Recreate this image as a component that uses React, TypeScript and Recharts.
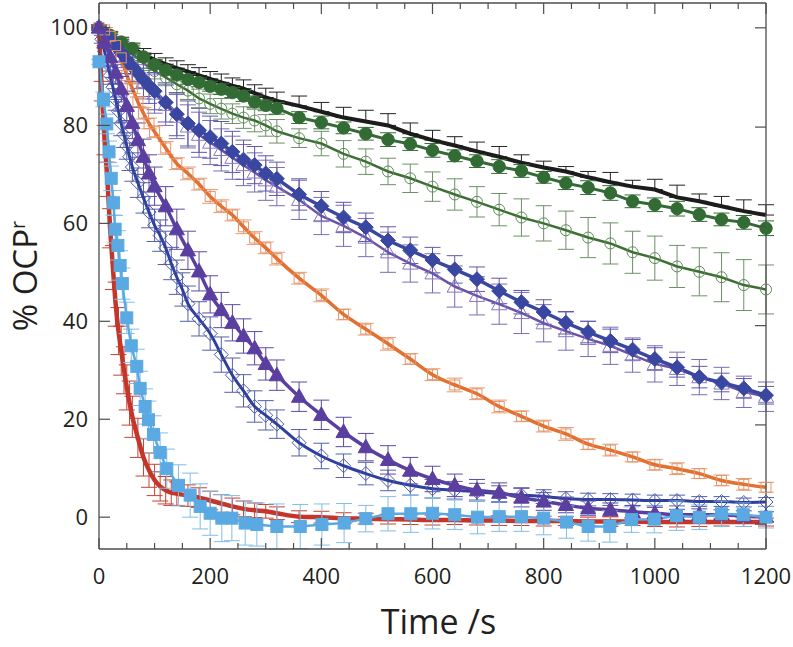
import React from "react";
import { ComposedChart, Line, XAxis, YAxis, ErrorBar } from "recharts";

// time points (s)
const tCoarse = [0, 20, 40, 60, 80, 100, 120, 140, 160, 180, 200, 220, 240, 260, 280, 300, 320, 360, 400, 440, 480, 520, 560, 600, 640, 680, 720, 760, 800, 840, 880, 920, 960, 1000, 1040, 1080, 1120, 1160, 1200];
const tMid = [0, 10, 20, 30, 40, 50, 60, 70, 80, 90, 100, 120, 140, 160, 180, 200, 220, 240, 260, 280, 300, 320, 360, 400, 440, 480, 520, 560, 600, 640, 680, 720, 760, 800, 840, 880, 920, 960, 1000, 1040, 1080, 1120, 1160, 1200];
const tFine = [0, 5, 10, 15, 20, 25, 30, 35, 40, 45, 50, 55, 60, 70, 80, 90, 100, 110, 120, 130, 140, 150, 160, 180, 200, 220, 240, 260, 280, 300, 320, 360, 400, 440, 480, 520, 560, 600, 640, 680, 720, 760, 800, 840, 880, 920, 960, 1000, 1040, 1080, 1120, 1160, 1200];
const tRed = [0, 5, 10, 15, 20, 25, 30, 35, 40, 45, 50, 55, 60, 70, 80, 90, 100, 110, 120, 130, 140, 160, 180, 200, 220, 240, 260, 280, 300, 320, 360, 400, 440, 480, 520, 560, 600, 640, 680, 720, 760, 800, 840, 880, 920, 960, 1000, 1040, 1080, 1120, 1160, 1200];
const tLight = [0, 8, 14, 18, 22, 26, 29, 34, 38, 42, 50, 58, 68, 74, 83, 89, 98, 110, 122, 143, 164, 182, 200, 221, 239, 263, 284, 320, 362, 401, 441, 480, 520, 561, 600, 640, 681, 720, 760, 800, 841, 880, 919, 958, 999, 1039, 1080, 1120, 1159, 1200];

// % OCPr and error half-heights
const blackV = [100, 98.6, 97.2, 95.8, 94.5, 93.4, 92.5, 91.7, 91.0, 90.2, 89.5, 88.8, 88.1, 87.5, 86.6, 85.7, 85.0, 84.0, 82.8, 81.6, 80.8, 80.0, 78.3, 77.0, 75.9, 74.7, 73.6, 72.4, 71.4, 70.6, 69.4, 68.4, 67.5, 66.9, 65.3, 64.5, 63.5, 62.5, 61.7];
const blackE = [0.4, 0.6, 0.8, 1.0, 1.2, 1.3, 1.3, 1.5, 1.4, 1.6, 1.5, 1.7, 1.6, 1.8, 1.7, 1.9, 1.8, 2.0, 1.9, 2.1, 2.3, 2.4, 2.2, 2.0, 1.8, 1.9, 2.1, 1.6, 1.3, 1.0, 1.2, 2.0, 1.3, 2.1, 2.5, 1.5, 2.0, 2.3, 2.1];

const greenV = [100, 98.4, 97.0, 95.7, 94.0, 92.4, 91.3, 90.3, 89.4, 88.8, 88.0, 87.4, 86.7, 86.0, 84.8, 84.1, 83.5, 81.6, 80.6, 79.5, 78.3, 77.1, 76.2, 74.9, 73.8, 72.7, 71.6, 70.7, 69.4, 68.2, 67.3, 66.2, 64.5, 63.8, 63.0, 61.8, 60.8, 60.2, 59.0];
const greenE = [0.3, 0.5, 0.6, 0.7, 0.8, 0.8, 0.9, 0.9, 1.0, 0.9, 1.0, 1.1, 1.0, 1.1, 1.2, 1.1, 1.2, 1.2, 1.3, 1.2, 1.3, 1.4, 1.3, 1.4, 1.2, 1.3, 1.4, 1.3, 1.2, 1.3, 1.4, 1.5, 1.3, 1.4, 1.5, 1.4, 1.3, 1.4, 1.5];

const openGreenV = [100, 98.0, 96.4, 94.6, 92.7, 91.1, 89.8, 88.4, 87.1, 85.5, 84.4, 83.4, 82.4, 81.6, 81.0, 80.0, 78.8, 77.4, 76.3, 74.2, 72.6, 70.6, 69.2, 67.5, 65.9, 64.4, 62.8, 61.2, 60.0, 58.6, 57.1, 55.9, 54.1, 52.9, 51.2, 50.1, 49.0, 47.4, 46.5];
const openGreenE = [0.5, 1.0, 1.2, 1.4, 1.5, 1.6, 1.7, 1.8, 1.8, 1.9, 2.0, 2.1, 2.0, 2.2, 2.3, 2.2, 2.4, 1.9, 2.5, 2.7, 2.6, 2.7, 2.9, 3.0, 3.2, 3.1, 3.3, 3.8, 3.6, 3.9, 4.1, 4.2, 4.3, 4.5, 4.3, 4.9, 5.0, 5.2, 5.0];

const openTriV = [100, 97.2, 94.3, 91.5, 88.9, 86.5, 84.2, 81.8, 79.8, 78.1, 76.5, 75.0, 73.4, 71.9, 70.4, 68.8, 67.5, 64.8, 61.5, 59.5, 57.1, 54.1, 51.8, 49.8, 47.1, 45.2, 43.5, 41.7, 39.6, 38.0, 36.4, 35.0, 33.1, 31.3, 30.3, 28.6, 27.3, 25.6, 24.6];
const openTriE = [0.5, 1.5, 2.5, 3.0, 3.5, 4.0, 4.2, 4.5, 4.4, 4.6, 4.5, 4.3, 4.4, 4.2, 4.0, 4.1, 3.9, 4.0, 3.8, 4.2, 3.9, 4.1, 3.8, 4.0, 4.2, 3.9, 4.1, 4.2, 3.8, 3.9, 3.6, 3.8, 3.5, 3.7, 3.4, 3.6, 3.3, 3.2, 3.0];

const diamondV = [100, 99.0, 97.6, 96.2, 94.8, 93.4, 92.0, 90.7, 89.4, 88.1, 87.0, 84.7, 82.3, 80.4, 79.0, 77.6, 76.3, 74.6, 73.0, 71.9, 70.2, 69.1, 65.9, 63.5, 61.2, 59.2, 56.5, 54.5, 52.5, 50.6, 48.6, 46.2, 43.9, 41.9, 39.7, 37.8, 36.0, 34.2, 32.3, 30.6, 28.6, 27.5, 26.3, 24.9];
const diamondE = [0.5, 1.0, 1.5, 2.0, 2.4, 2.8, 3.0, 3.2, 3.5, 3.6, 3.8, 4.0, 4.4, 4.6, 4.5, 4.3, 4.5, 4.2, 4.0, 3.8, 3.6, 3.4, 3.2, 3.0, 3.1, 2.9, 2.8, 2.7, 2.6, 2.8, 2.5, 2.6, 2.4, 2.5, 2.3, 2.2, 2.4, 2.1, 2.3, 2.0, 2.2, 1.9, 2.0, 1.8];

const orangeV = [100, 99.5, 98.2, 96.3, 93.8, 90.2, 87.6, 84.8, 82.5, 80.4, 78.7, 75.4, 72.2, 70.2, 68.0, 65.5, 63.5, 61.7, 59.3, 57.0, 55.0, 52.8, 48.8, 45.3, 41.4, 38.4, 35.4, 32.3, 29.1, 27.0, 25.2, 22.6, 20.6, 18.6, 17.0, 14.9, 13.7, 12.3, 10.7, 9.9, 8.9, 7.5, 6.7, 6.1];
const orangeE = [0.3, 0.5, 0.6, 0.8, 0.9, 1.0, 1.1, 1.0, 1.2, 1.1, 1.2, 1.3, 1.2, 1.3, 1.2, 1.4, 1.3, 1.2, 1.4, 1.3, 1.2, 1.3, 1.2, 1.3, 1.1, 1.2, 1.3, 1.1, 1.2, 1.4, 1.2, 1.3, 1.1, 1.2, 1.3, 1.1, 1.2, 1.0, 1.1, 1.2, 1.0, 1.1, 1.2, 1.0];

const filledTriV = [100, 97.0, 94.0, 90.8, 87.4, 84.0, 80.5, 77.0, 73.6, 70.2, 67.6, 63.5, 58.8, 54.5, 50.2, 45.5, 42.3, 39.7, 37.0, 34.5, 31.3, 29.0, 24.6, 20.9, 17.4, 14.3, 11.7, 9.5, 7.8, 6.5, 5.5, 5.0, 4.0, 3.2, 2.5, 1.8, 1.5, 1.1, 0.8, 0.5, 0.5, 0.5, 0.2, 0.1];
const filledTriE = [0.5, 1.2, 1.8, 2.2, 2.6, 3.0, 3.2, 3.5, 3.6, 3.8, 3.9, 4.0, 4.1, 3.9, 4.0, 3.8, 3.6, 3.7, 3.5, 3.4, 3.3, 3.1, 3.0, 3.0, 3.0, 2.8, 2.9, 2.7, 2.6, 2.3, 2.2, 2.0, 1.9, 1.8, 1.6, 1.5, 1.4, 1.3, 1.2, 1.1, 1.2, 1.0, 1.1, 1.0];

const openDiaV = [100, 97.6, 95.1, 92.6, 90.2, 87.8, 85.3, 82.9, 80.4, 78.1, 75.8, 73.6, 71.5, 68.3, 65.2, 62.3, 59.6, 57.5, 55.0, 51.8, 49.0, 46.5, 43.6, 40.5, 37.5, 33.2, 29.0, 25.8, 22.6, 20.8, 19.0, 15.2, 12.5, 10.5, 8.9, 7.5, 6.5, 5.8, 5.5, 5.2, 4.8, 4.5, 4.2, 3.8, 3.6, 3.6, 3.5, 3.4, 3.4, 3.2, 3.2, 3.0, 3.1];
const openDiaE = [0.3, 0.8, 1.2, 1.5, 1.8, 2.0, 2.2, 2.4, 2.5, 2.6, 2.7, 2.8, 2.9, 3.0, 3.1, 3.2, 3.3, 3.2, 3.4, 3.3, 3.5, 3.4, 3.6, 3.5, 3.4, 3.6, 3.5, 3.3, 3.2, 3.0, 2.9, 2.7, 2.6, 2.4, 2.3, 2.1, 2.0, 1.9, 1.8, 1.7, 1.6, 1.5, 1.4, 1.4, 1.3, 1.2, 1.2, 1.1, 1.1, 1.0, 1.0, 0.9, 0.9];

const redV = [100, 87, 77, 69, 59, 51, 43.5, 38, 34, 30, 26.5, 23.3, 20.5, 16.2, 12.2, 9.6, 7.6, 6.3, 5.5, 5.0, 4.8, 4.4, 4.0, 3.4, 2.8, 2.2, 1.7, 1.4, 1.2, 0.8, 0.1, 0.0, -0.2, -0.3, -0.4, -0.5, -0.6, -0.6, -0.7, -0.7, -0.8, -0.8, -0.8, -0.9, -0.9, -0.9, -1.0, -1.0, -1.0, -1.0, -1.0, -1.0];
const redE = [0.5, 2, 3, 3.5, 4, 4.5, 4.5, 4.8, 5, 4.8, 4.6, 4.5, 4.2, 4.0, 3.8, 3.5, 3.2, 3.0, 2.8, 2.6, 2.4, 2.2, 2.0, 1.9, 1.8, 1.7, 1.6, 1.5, 1.4, 1.3, 1.2, 1.2, 1.1, 1.1, 1.0, 1.0, 1.0, 0.9, 0.9, 1.0, 0.9, 1.0, 0.9, 0.9, 1.0, 0.8, 0.9, 1.0, 0.9, 0.8, 0.9, 0.8];

const lightV = [93, 85.3, 80.3, 74.6, 69.2, 64.2, 58.8, 55.5, 51.4, 47.7, 40.7, 35.0, 30.8, 26.3, 22.6, 19.9, 16.9, 13.2, 9.9, 6.5, 4.5, 2.2, 0.8, -0.2, -0.2, -1.2, -1.5, -1.9, -1.9, -1.5, -1.2, -0.3, 0.7, 0.7, 0.8, 0.5, 0.0, 0.1, 0.1, -0.2, -1.0, -1.9, -1.9, -0.5, -0.4, 0.3, 0.0, 0.7, 0.5, 0.0];
const lightE = [0.5, 1.5, 2.0, 2.2, 2.5, 2.5, 2.8, 3.0, 3.0, 3.2, 3.2, 3.4, 3.5, 3.5, 3.6, 3.8, 3.8, 4.0, 4.0, 4.2, 4.5, 4.6, 4.5, 4.8, 4.6, 4.5, 4.4, 4.6, 4.5, 4.2, 4.0, 2.7, 3.5, 3.8, 3.2, 3.0, 3.4, 3.0, 3.0, 3.4, 3.3, 3.0, 3.2, 2.6, 2.8, 3.0, 2.5, 2.6, 2.4, 2.2];

const xTicks = [0, 50, 100, 150, 200, 250, 300, 350, 400, 450, 500, 550, 600, 650, 700, 750, 800, 850, 900, 950, 1000, 1050, 1100, 1150, 1200];
const yTicks = [0, 20, 40, 60, 80, 100];

const rows = (t: number[], v: number[], e: number[]) => t.map((x, i) => ({ t: x, v: v[i], e: e[i] }));
// black curve only shows the upper whisker
const blackRows = tCoarse.map((x, i) => ({ t: x, v: blackV[i], e: [0, blackE[i]] }));

const AX = "#4d4d4d";
const TXT = "#231f20";
const FONT = "'Open Sans', 'DejaVu Sans', sans-serif";

const circle = (r: number, fill: string, stroke: string) => (p: any) =>
  <circle key={p.index} cx={p.cx} cy={p.cy} r={r} fill={fill} stroke={stroke} strokeWidth={1} />;
const diamond = (s: number, fill: string, stroke: string) => (p: any) =>
  <path key={p.index} d={`M${p.cx},${p.cy - s}L${p.cx + s},${p.cy}L${p.cx},${p.cy + s}L${p.cx - s},${p.cy}Z`} fill={fill} stroke={stroke} strokeWidth={1} />;
const triangle = (s: number, fill: string, stroke: string) => (p: any) =>
  <path key={p.index} d={`M${p.cx},${p.cy - s}L${p.cx + s * 0.95},${p.cy + s * 0.7}L${p.cx - s * 0.95},${p.cy + s * 0.7}Z`} fill={fill} stroke={stroke} strokeWidth={1} />;
const square = (s: number, fill: string, stroke: string) => (p: any) =>
  <rect key={p.index} x={p.cx - s / 2} y={p.cy - s / 2} width={s} height={s} fill={fill} stroke={stroke} strokeWidth={1} />;

const BottomTick = (p: any) => {
  const { x, y, payload } = p;
  const major = payload.value % 200 === 0;
  return (
    <g>
      <line x1={x} x2={x} y1={y} y2={y - (major ? 11 : 6)} stroke={AX} strokeWidth={1.2} />
      {major && (
        <text x={x} y={y + 35} textAnchor="middle" fontSize={22} fontFamily={FONT} fill={TXT}>
          {payload.value}
        </text>
      )}
    </g>
  );
};
const TopTick = (p: any) => {
  const major = p.payload.value % 200 === 0;
  return <line x1={p.x} x2={p.x} y1={p.y} y2={p.y + (major ? 11 : 6)} stroke={AX} strokeWidth={1.2} />;
};
const LeftTick = (p: any) => (
  <g>
    <line x1={p.x} x2={p.x + 11} y1={p.y} y2={p.y} stroke={AX} strokeWidth={1.2} />
    <text x={p.x - 11} y={p.y + 8} textAnchor="end" fontSize={22} fontFamily={FONT} fill={TXT}>
      {p.payload.value}
    </text>
  </g>
);
const RightTick = (p: any) => <line x1={p.x} x2={p.x - 11} y1={p.y} y2={p.y} stroke={AX} strokeWidth={1.2} />;

const XTitle = (p: any) => {
  const vb = p.viewBox || { x: 99, y: 549, width: 667, height: 98 };
  return (
    <text x={vb.x + vb.width / 2 + 6} y={vb.y + 85} textAnchor="middle" fontSize={34} fontFamily={FONT} fill={TXT}>
      Time /s
    </text>
  );
};
const YTitle = (p: any) => {
  const vb = p.viewBox || { x: 0, y: 3, width: 99, height: 546 };
  const cx = vb.x + 37;
  const cy = vb.y + vb.height / 2;
  return (
    <text x={cx} y={cy} transform={`rotate(-90, ${cx}, ${cy})`} textAnchor="middle" fontSize={33} fontFamily={FONT} fill={TXT}>
      <tspan>% OCP</tspan>
      <tspan dy={-12} fontSize={20}>r</tspan>
    </text>
  );
};

export default function App() {
  return (
    <div style={{ position: "absolute", left: 0, top: 0, width: 793, height: 647, background: "#fff" }}>
      <ComposedChart width={793} height={647} margin={{ top: 2, right: 26, bottom: 0, left: 0 }}>
        <XAxis
          dataKey="t"
          type="number"
          domain={[0, 1200]}
          ticks={xTicks}
          interval={0}
          height={98}
          tickSize={0}
          tickMargin={0}
          tickLine={false}
          tick={BottomTick}
          axisLine={{ stroke: AX, strokeWidth: 1.3 }}
          label={XTitle}
        />
        <XAxis
          xAxisId="top"
          orientation="top"
          dataKey="t"
          type="number"
          domain={[0, 1200]}
          ticks={xTicks}
          interval={0}
          height={1}
          tickSize={0}
          tickMargin={0}
          tickLine={false}
          tick={TopTick}
          axisLine={{ stroke: AX, strokeWidth: 1.3 }}
        />
        <YAxis
          type="number"
          domain={[-5, 105]}
          ticks={yTicks}
          interval={0}
          width={99}
          tickSize={0}
          tickMargin={0}
          tickLine={false}
          tick={LeftTick}
          axisLine={{ stroke: AX, strokeWidth: 1.3 }}
          label={YTitle}
        />
        <YAxis
          yAxisId="right"
          orientation="right"
          type="number"
          domain={[-5, 105]}
          ticks={yTicks}
          interval={0}
          width={1}
          tickSize={0}
          tickMargin={0}
          tickLine={false}
          tick={RightTick}
          axisLine={{ stroke: AX, strokeWidth: 1.3 }}
        />

        {/* invisible helper so the top/right frame axes get a domain */}
        <Line xAxisId="top" yAxisId="right" data={blackRows} dataKey="v" stroke="none" dot={false} activeDot={false} legendType="none" isAnimationActive={false} />

        <Line data={blackRows} dataKey="v" stroke="#1c1c1c" strokeWidth={4} dot={false} activeDot={false} isAnimationActive={false}>
          <ErrorBar dataKey="e" width={8} stroke="#222" strokeWidth={1} direction="y" isAnimationActive={false} />
        </Line>
        <Line data={rows(tCoarse, openGreenV, openGreenE)} dataKey="v" stroke="#3d6f35" strokeWidth={2.5} dot={circle(5.5, "none", "#5d8c58")} activeDot={false} isAnimationActive={false}>
          <ErrorBar dataKey="e" width={8} stroke="#6f8f69" strokeWidth={1} direction="y" isAnimationActive={false} />
        </Line>
        <Line data={rows(tCoarse, greenV, greenE)} dataKey="v" stroke="#336b34" strokeWidth={3} dot={circle(6.2, "#336b34", "#336b34")} activeDot={false} isAnimationActive={false}>
          <ErrorBar dataKey="e" width={8} stroke="#336b34" strokeWidth={1} direction="y" isAnimationActive={false} />
        </Line>
        <Line data={rows(tCoarse, openTriV, openTriE)} dataKey="v" stroke="#6b52a8" strokeWidth={2.5} dot={triangle(8, "none", "#8a78c0")} activeDot={false} isAnimationActive={false}>
          <ErrorBar dataKey="e" width={8} stroke="#7b6bb5" strokeWidth={1} direction="y" isAnimationActive={false} />
        </Line>
        <Line data={rows(tMid, diamondV, diamondE)} dataKey="v" stroke="#3a47a0" strokeWidth={3.5} dot={diamond(7.5, "#3a47a0", "#3a47a0")} activeDot={false} isAnimationActive={false}>
          <ErrorBar dataKey="e" width={8} stroke="#5d5aa8" strokeWidth={1} direction="y" isAnimationActive={false} />
        </Line>
        <Line data={rows(tMid, orangeV, orangeE)} type="monotone" dataKey="v" stroke="#e27030" strokeWidth={3.5} dot={square(10, "none", "#e8946a")} activeDot={false} isAnimationActive={false}>
          <ErrorBar dataKey="e" width={8} stroke="#e89a6e" strokeWidth={1} direction="y" isAnimationActive={false} />
        </Line>
        <Line data={rows(tFine, openDiaV, openDiaE)} type="monotone" dataKey="v" stroke="#2f3f9c" strokeWidth={3} dot={diamond(7, "none", "#4a58b0")} activeDot={false} isAnimationActive={false}>
          <ErrorBar dataKey="e" width={8} stroke="#5560a8" strokeWidth={1} direction="y" isAnimationActive={false} />
        </Line>
        <Line data={rows(tMid, filledTriV, filledTriE)} type="monotone" dataKey="v" stroke="#5b3fa0" strokeWidth={3.5} dot={triangle(8, "#5b3fa0", "#5b3fa0")} activeDot={false} isAnimationActive={false}>
          <ErrorBar dataKey="e" width={8} stroke="#5b4aa2" strokeWidth={1} direction="y" isAnimationActive={false} />
        </Line>
        <Line data={rows(tRed, redV, redE)} type="monotone" dataKey="v" stroke="#c4352a" strokeWidth={4.5} dot={false} activeDot={false} isAnimationActive={false}>
          <ErrorBar dataKey="e" width={8} stroke="#c84030" strokeWidth={1} direction="y" isAnimationActive={false} />
        </Line>
        <Line data={rows(tLight, lightV, lightE)} dataKey="v" stroke="#5aa9e2" strokeWidth={2.5} dot={square(12, "#5aa9e2", "#5aa9e2")} activeDot={false} isAnimationActive={false}>
          <ErrorBar dataKey="e" width={8} stroke="#80bde8" strokeWidth={1} direction="y" isAnimationActive={false} />
        </Line>
      </ComposedChart>
    </div>
  );
}
